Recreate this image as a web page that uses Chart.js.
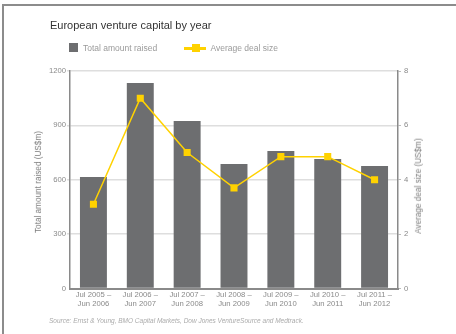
<!DOCTYPE html>
<html>
<head>
<meta charset="utf-8">
<title>European venture capital by year</title>
<script src="https://cdn.jsdelivr.net/npm/chart.js@4.4.0/dist/chart.umd.min.js"></script>
<style>
  body { margin: 0; background: #fff; font-family: "Liberation Sans", Arial, sans-serif; }
  #page { position: relative; width: 456px; height: 334px; overflow: hidden; }
  #frame { position: absolute; left: 2px; top: 4px; right: 0; bottom: 0;
           border-top: 2px solid #8c8c8c; border-left: 2px solid #8c8c8c; }
  #wrap { position: absolute; left: 0; top: 0; width: 456px; height: 334px; }
  .txt { position: absolute; white-space: nowrap; line-height: 1; transform: translateY(-50%); }
  .rot { position: absolute; white-space: nowrap; line-height: 1; transform: translate(-50%, -50%) rotate(-90deg); }
  .chartTitle { left: 50px; top: 24.5px; font-size: 11px; color: #333; }
  .legendText { font-size: 8.5px; color: #9a9a9a; }
  .axisTitle { font-size: 8.2px; color: #7a7a7a; }
  .source { left: 49px; top: 320.7px; font-size: 6.5px; color: #ababab; font-style: italic; }
  .swatch { position: absolute; }
</style>
</head>
<body>
<div id="page">
  <div id="frame"></div>
  <div id="wrap"><canvas id="chart_vc"></canvas></div>

  <div class="txt chartTitle">European venture capital by year</div>

  <div class="swatch" style="left:69px; top:43.3px; width:8.5px; height:8.5px; background:#6d6e70;"></div>
  <div class="txt legendText" style="left:83px; top:47.9px;">Total amount raised</div>
  <div class="swatch" style="left:184px; top:46.8px; width:22px; height:3px; background:#ffd200;"></div>
  <div class="swatch" style="left:191.5px; top:44.3px; width:8px; height:8px; background:#ffd200;"></div>
  <div class="txt legendText" style="left:210.5px; top:48.3px;">Average deal size</div>

  <div class="rot axisTitle" style="left:39px; top:182px;">Total amount raised (US$m)</div>
  <div class="rot axisTitle" style="left:419px; top:186px;">Average deal size (US$m)</div>

  <div class="txt source">Source: Ernst &amp; Young, BMO Capital Markets, Dow Jones VentureSource and Medtrack.</div>
</div>

<script>
// periods (two-line labels under each bar)
var periods = [
    ['Jul 2005 –', 'Jun 2006'],
    ['Jul 2006 –', 'Jun 2007'],
    ['Jul 2007 –', 'Jun 2008'],
    ['Jul 2008 –', 'Jun 2009'],
    ['Jul 2009 –', 'Jun 2010'],
    ['Jul 2010 –', 'Jun 2011'],
    ['Jul 2011 –', 'Jun 2012']
];
// total amount raised, US$m (left axis)
var totalRaised = [615, 1134, 924, 687, 759, 714, 676];
// average deal size, US$m (right axis)
var avgDealSize = [3.1, 7.0, 5.0, 3.7, 4.85, 4.85, 4.0];
// axis ranges and steps
var leftTicks = [0, 300, 600, 900, 1200];
var rightTicks = [0, 2, 4, 6, 8];

var barGrey = '#6d6e70';
var dealYellow = '#ffd200';
var axisGrey = '#8a8a8a';
var tickFont = { family: '"Liberation Sans", Arial, sans-serif', size: 7.7 };

// plain numbers on the axes, no thousands separator
function plainTick(v) { return String(v); }

var ctx = document.getElementById('chart_vc').getContext('2d');
var myChartVC = new Chart(ctx, {
    data: {
        labels: periods,
        datasets: [{
            type: 'line',
            label: 'Average deal size',
            data: avgDealSize,
            yAxisID: 'y1',
            borderColor: dealYellow,
            borderWidth: 1.5,
            pointStyle: 'rect',
            pointRadius: 5,
            pointBorderWidth: 0,
            pointBackgroundColor: dealYellow,
            tension: 0,
            order: 0
        }, {
            type: 'bar',
            label: 'Total amount raised',
            data: totalRaised,
            yAxisID: 'y',
            backgroundColor: barGrey,
            barPercentage: 0.575,
            categoryPercentage: 1,
            order: 1
        }]
    },
    options: {
        responsive: true,
        maintainAspectRatio: false,
        animation: false,
        layout: { padding: { top: 71, left: 0, right: 0, bottom: 0 } },
        plugins: {
            legend: { display: false },
            tooltip: { enabled: false }
        },
        scales: {
            x: {
                grid: { display: false, drawTicks: false },
                border: { color: axisGrey, width: 2 },
                ticks: { color: axisGrey, font: tickFont, padding: 2, maxRotation: 0, autoSkip: false },
                afterFit: function(s) { s.height = 45.5; }
            },
            y: {
                position: 'left',
                min: leftTicks[0],
                max: leftTicks[leftTicks.length - 1],
                ticks: { stepSize: leftTicks[1] - leftTicks[0], color: axisGrey, font: tickFont, padding: 1, callback: plainTick },
                grid: {
                    color: function(c) { return c.tick && c.tick.value === 0 ? 'rgba(0,0,0,0)' : '#dedede'; },
                    lineWidth: 1.5,
                    tickLength: 3
                },
                border: { color: axisGrey, width: 1.5 },
                afterFit: function(s) { s.width = 70; }
            },
            y1: {
                position: 'right',
                min: rightTicks[0],
                max: rightTicks[rightTicks.length - 1],
                ticks: { stepSize: rightTicks[1] - rightTicks[0], color: axisGrey, font: tickFont, padding: 3, callback: plainTick },
                grid: { drawOnChartArea: false, tickLength: 3, color: '#bbbbbb' },
                border: { color: axisGrey, width: 1.5 },
                afterFit: function(s) { s.width = 58; }
            }
        }
    }
});
</script>
</body>
</html>
